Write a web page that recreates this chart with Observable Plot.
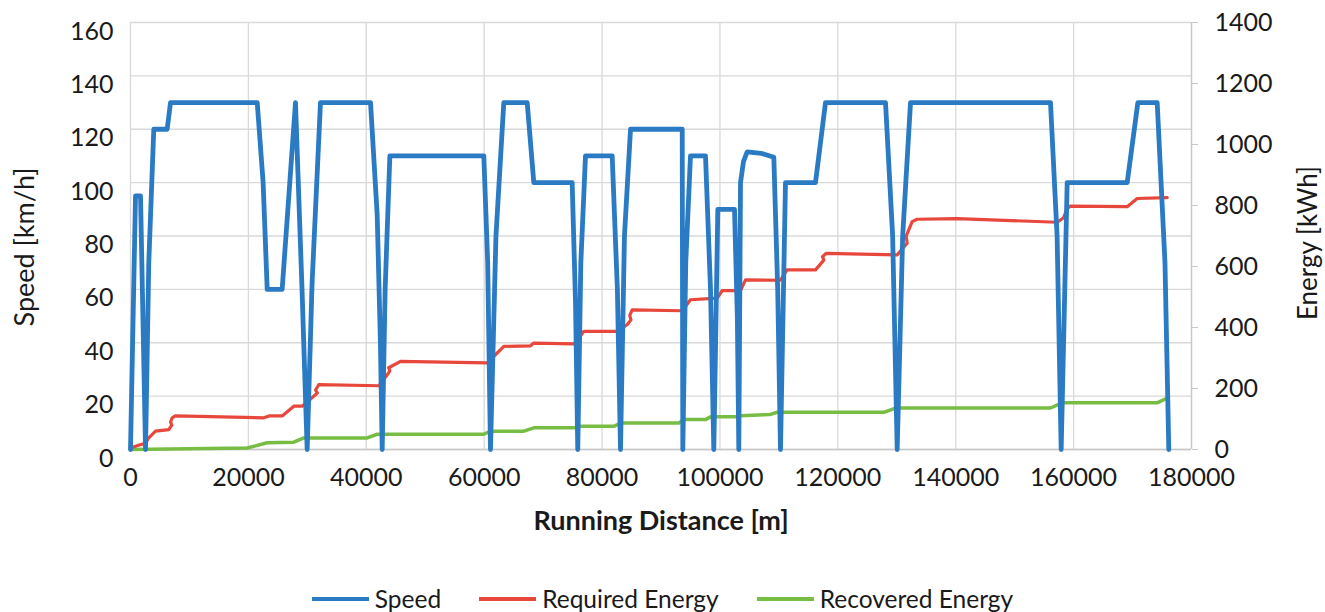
<!DOCTYPE html>
<html>
<head>
<meta charset="utf-8">
<script src="https://cdn.jsdelivr.net/npm/d3@7"></script>
<script src="https://cdn.jsdelivr.net/npm/@observablehq/plot@0.6"></script>
<style>
  body { margin: 0; background: #fff; font-family: Lato, "Open Sans", sans-serif; }
  #wrap { position: relative; width: 1325px; height: 612px; }
  #legend { position: absolute; left: 0; top: 584px; width: 1325px; display: flex; justify-content: center; align-items: center; font-size: 24.5px; color: #1a1a1a; }
  .item { display: flex; align-items: center; margin: 0 19px; }
  .sw { width: 57px; height: 4px; margin-right: 6px; }
</style>
</head>
<body>
<div id="wrap">
  <div id="chart"></div>
  <div id="legend"></div>
</div>
<script>
// ---- data ----
const seriesNames = ["Speed", "Required Energy", "Recovered Energy"];
const seriesColors = ["#2a7bc4", "#e8473c", "#78bd43"];

const speedDist = [0, 850, 1700, 2550, 3100, 3950, 6220, 6790, 21500, 22500, 23190, 25730, 27990, 29100, 29970,
  30800, 32230, 40720, 41850, 42400, 42700, 43200, 44000, 59940, 60600, 61070, 62000, 63330, 67300, 68420, 74930,
  75500, 75880, 76400, 77190, 81720, 82600, 83130, 83800, 84830, 93600, 93700, 94200, 95000, 97550, 98400, 98960,
  99640, 102470, 102950, 103200, 103490, 104000, 104620, 107000, 109140, 109800, 110270, 111120, 116210, 117910,
  128090, 129300, 130070, 131000, 132330, 156080, 157200, 157890, 158910, 169090, 170900, 174180, 175500, 176150];
const speedVal = [0, 95, 95, 0, 70, 120, 120, 130, 130, 100, 60, 60, 130, 60, 0,
  62, 130, 130, 88, 40, 0, 60, 110, 110, 70, 0, 80, 130, 130, 100, 100,
  55, 0, 70, 110, 110, 60, 0, 80, 120, 120, 0, 70, 110, 110, 60, 0,
  90, 90, 50, 0, 100, 108, 111.5, 111, 109.5, 60, 0, 100, 100, 130,
  130, 80, 0, 80, 130, 130, 80, 0, 100, 100, 130, 130, 70, 0];

const reqDist = [0, 1500, 2500, 3100, 4240, 6500, 7000, 6800, 7070, 7600, 22620, 23500, 25730, 27710, 29120,
  30500, 31700, 31400, 31950, 42130, 43550, 44000, 43800, 45810, 60510, 61640, 63330, 67860, 68420, 75210,
  76900, 82570, 84300, 84900, 84700, 85110, 93600, 95000, 99530, 100380, 103490, 104340, 110270, 111400, 116210,
  117620, 117400, 118000, 130070, 131760, 131600, 132610, 133460, 140250, 157210, 158300, 158910, 159470, 169090,
  170790, 175880];
const reqVal = [5, 15, 20, 38, 60, 65, 80, 90, 104, 110, 104, 110, 110, 142, 142,
  165, 185, 195, 213, 209, 245, 258, 268, 289, 284, 305, 338, 340, 349, 346,
  387, 387, 410, 425, 440, 458, 455, 491, 496, 521, 521, 556, 555, 589, 589,
  621, 632, 643, 638, 676, 700, 747, 755, 757, 745, 760, 790, 798, 796,
  823, 826];

const recDist = [0, 19800, 23190, 27710, 29400, 40160, 41850, 59940, 61070, 66730, 68420, 75210, 76340, 82000,
  83130, 93020, 93870, 97550, 98400, 102750, 103500, 108580, 109710, 127800, 129780, 156080, 158060, 174180, 175880];
const recVal = [0, 5, 22, 24, 38, 38, 50, 50, 60, 60, 71, 71, 76, 76,
  87, 87, 98, 98, 107, 107, 111, 115, 122, 122, 136, 136, 153, 153, 169];

const xTicks = [0, 20000, 40000, 60000, 80000, 100000, 120000, 140000, 160000, 180000];
const speedTicks = [0, 20, 40, 60, 80, 100, 120, 140, 160];
const energyTicks = [0, 200, 400, 600, 800, 1000, 1200, 1400];

// ---- build ----
const speedMax = 160, energyMax = 1400;
const toSpeed = e => e * speedMax / energyMax;
const speedData = speedDist.map((d, i) => ({d, v: speedVal[i]}));
const reqData = reqDist.map((d, i) => ({d, v: reqVal[i]}));
const recData = recDist.map((d, i) => ({d, v: recVal[i]}));

const chart = Plot.plot({
  width: 1325,
  height: 560,
  marginLeft: 130,
  marginRight: 134,
  marginTop: 22,
  marginBottom: 111,
  style: {fontFamily: "Lato, 'Open Sans', sans-serif", fontSize: "25px", color: "#1a1a1a", background: "#fff"},
  x: {domain: [0, 180000]},
  y: {domain: [0, speedMax]},
  marks: [
    Plot.gridX(xTicks, {stroke: "#d9d9d9", strokeOpacity: 1, strokeWidth: 1.3}),
    Plot.gridY(speedTicks, {stroke: "#d9d9d9", strokeOpacity: 1, strokeWidth: 1.3}),
    Plot.ruleY([0], {stroke: "#c8c8c8", strokeWidth: 1.3}),
    Plot.ruleX([180000], {stroke: "#c8c8c8", strokeWidth: 1.3}),
    Plot.axisX(xTicks, {tickSize: 0, tickPadding: 19, tickFormat: d => String(d), label: null}),
    Plot.axisY(speedTicks, {anchor: "left", tickSize: 0, tickPadding: 17, dy: 9, label: null}),
    Plot.axisY(energyTicks.map(toSpeed), {anchor: "right", tickSize: 6, tickPadding: 17, stroke: "#c8c8c8",
      tickFormat: v => String(Math.round(v * energyMax / speedMax)), label: null}),
    Plot.line(recData, {x: "d", y: d => toSpeed(d.v), stroke: seriesColors[2], strokeWidth: 3.5}),
    Plot.line(reqData, {x: "d", y: d => toSpeed(d.v), stroke: seriesColors[1], strokeWidth: 3.2}),
    Plot.line(speedData, {x: "d", y: "v", stroke: seriesColors[0], strokeWidth: 4.8}),
    Plot.text(["Running Distance [m]"], {frameAnchor: "bottom", dy: 80, fontWeight: "bold", fontSize: 27, fill: "#1a1a1a"}),
    Plot.text(["Speed [km/h]"], {frameAnchor: "left", textAnchor: "middle", dx: -105, dy: 11, rotate: -90, fontSize: 27, fill: "#1a1a1a"}),
    Plot.text(["Energy [kWh]"], {frameAnchor: "right", textAnchor: "middle", dx: 117, dy: 7, rotate: -90, fontSize: 26, fill: "#1a1a1a"})
  ]
});
document.getElementById("chart").appendChild(chart);

const legend = document.getElementById("legend");
seriesNames.forEach((n, i) => {
  const it = document.createElement("div");
  it.className = "item";
  const sw = document.createElement("div");
  sw.className = "sw";
  sw.style.background = seriesColors[i];
  const t = document.createElement("span");
  t.textContent = n;
  it.appendChild(sw); it.appendChild(t);
  legend.appendChild(it);
});
</script>
</body>
</html>
